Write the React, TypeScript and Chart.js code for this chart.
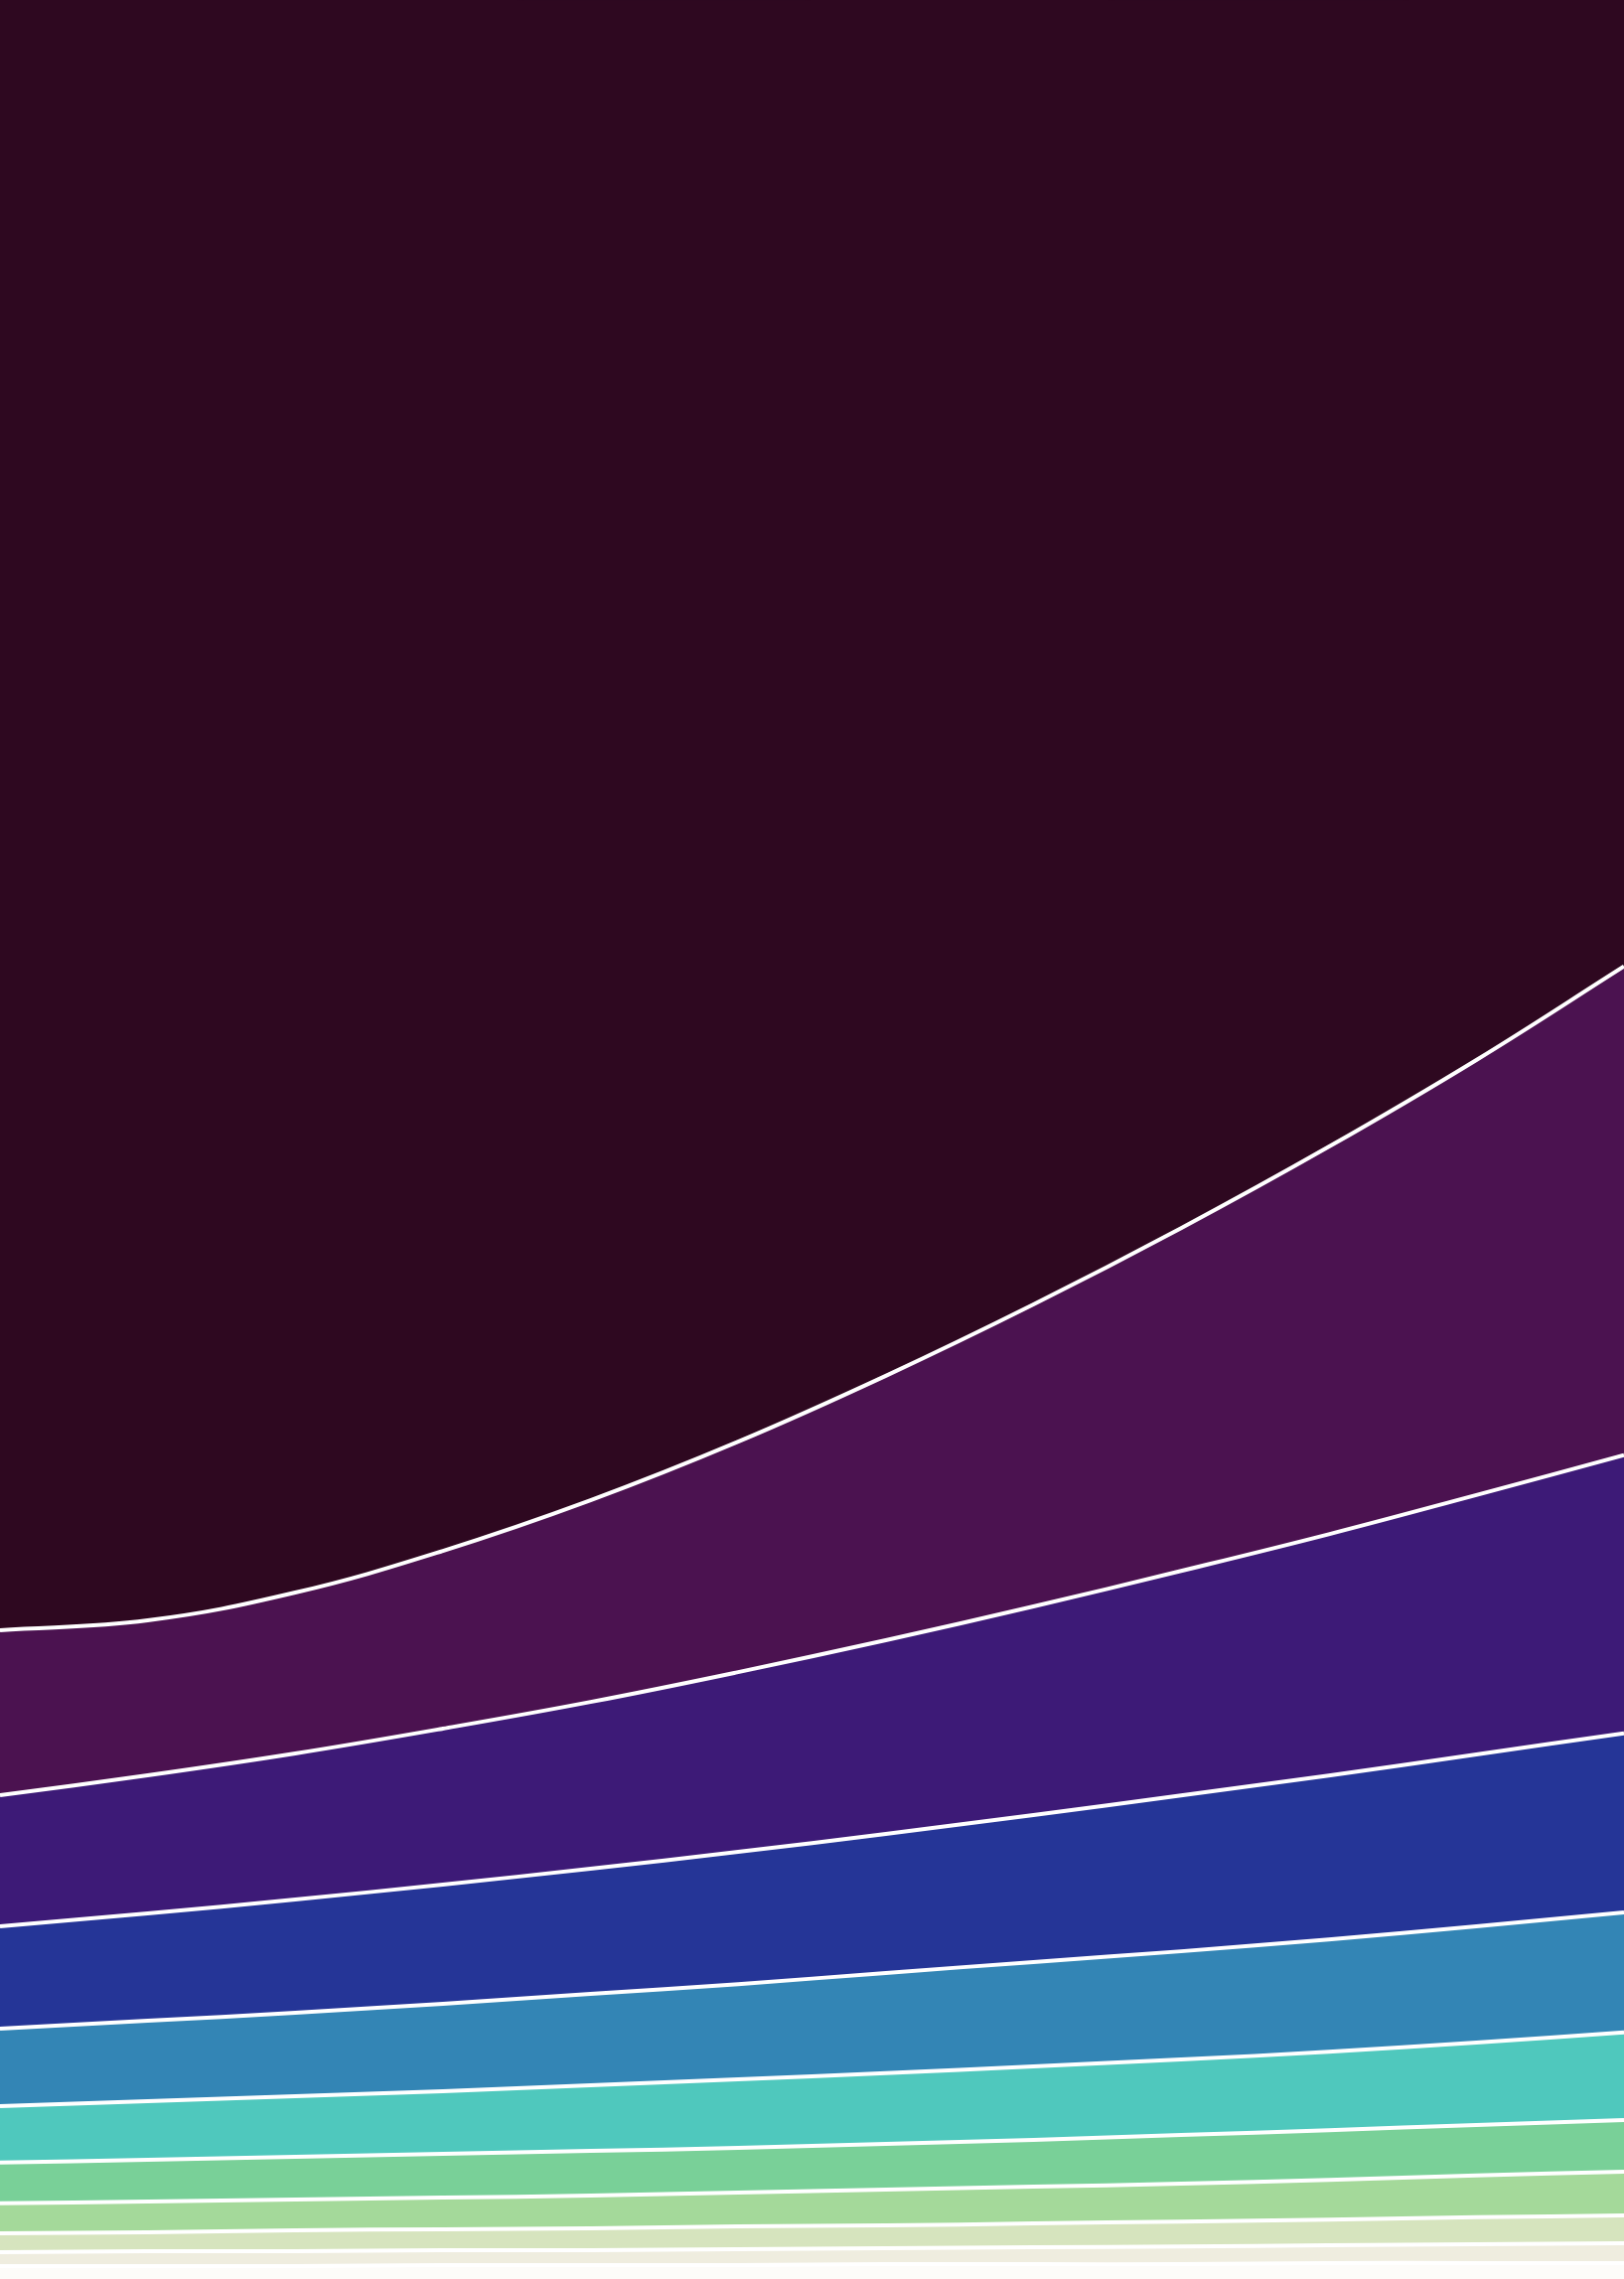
import React, { useEffect, useRef } from "react";
import { Chart, registerables } from "chart.js";

Chart.register(...registerables);

const periods = ["t0", "t1", "t2", "t3", "t4", "t5", "t6", "t7", "t8", "t9", "t10", "t11"];

// stacked shares (percent), bottom layer first
const layer11 = [0.57, 0.57, 0.57, 0.61, 0.61, 0.61, 0.65, 0.65, 0.65, 0.70, 0.70, 0.70];
const layer10 = [0.61, 0.65, 0.65, 0.65, 0.65, 0.70, 0.70, 0.74, 0.78, 0.78, 0.83, 0.87];
const layer9 = [0.83, 0.83, 0.92, 0.92, 0.96, 1.0, 1.0, 1.05, 1.09, 1.13, 1.18, 1.22];
const layer8 = [1.31, 1.35, 1.35, 1.39, 1.44, 1.48, 1.57, 1.61, 1.66, 1.74, 1.83, 1.92];
const layer7 = [1.79, 1.83, 1.87, 1.92, 1.96, 1.96, 2.01, 2.05, 2.14, 2.18, 2.22, 2.27];
const layer6 = [2.48, 2.57, 2.66, 2.75, 2.88, 3.01, 3.10, 3.23, 3.31, 3.44, 3.62, 3.84];
const layer5 = [3.40, 3.53, 3.66, 3.84, 4.01, 4.18, 4.40, 4.58, 4.75, 4.93, 5.10, 5.27];
const layer4 = [4.49, 4.71, 4.97, 5.23, 5.49, 5.80, 6.10, 6.45, 6.84, 7.19, 7.54, 7.85];
const layer3 = [5.75, 6.06, 6.41, 6.84, 7.32, 7.89, 8.50, 9.15, 9.85, 10.59, 11.38, 12.21];
const layer2 = [7.24, 6.80, 7.06, 7.80, 8.85, 10.11, 11.60, 13.25, 15.04, 17.00, 19.09, 21.45];
const layer1 = [71.53, 71.10, 69.88, 68.05, 65.82, 63.25, 60.37, 57.24, 53.88, 50.31, 46.51, 42.41];

const layers = [layer11, layer10, layer9, layer8, layer7, layer6, layer5, layer4, layer3, layer2, layer1];
const colors = [
  "#fdfcf9",
  "#efeddf",
  "#d6e4be",
  "#a4d99a",
  "#79d098",
  "#4fc8bd",
  "#3385b5",
  "#253597",
  "#3d1a77",
  "#4b1250",
  "#2e0820",
];

export default function App() {
  const ref = useRef<HTMLCanvasElement>(null);
  useEffect(() => {
    if (!ref.current) return;
    const datasets = layers.map((d, i) => ({
      label: "layer" + (i + 1),
      data: d,
      backgroundColor: colors[i],
      borderColor: "#ffffff",
      borderWidth: i === layers.length - 1 ? 0 : 4,
      fill: i === 0 ? "origin" : "-1",
      pointRadius: 0,
      tension: 0.4,
    }));
    const chart = new Chart(ref.current, {
      type: "line",
      data: { labels: periods, datasets },
      options: {
        animation: false,
        responsive: true,
        maintainAspectRatio: false,
        layout: { padding: 0 },
        plugins: { legend: { display: false }, tooltip: { enabled: false } },
        scales: {
          x: { display: false, offset: false },
          y: { display: false, stacked: true, min: 0, max: 100 },
        },
      },
    });
    return () => chart.destroy();
  }, []);
  return (
    <div style={{ position: "absolute", left: 0, top: 0, width: 1635, height: 2294, background: "#2e0820" }}>
      <canvas ref={ref} />
    </div>
  );
}
